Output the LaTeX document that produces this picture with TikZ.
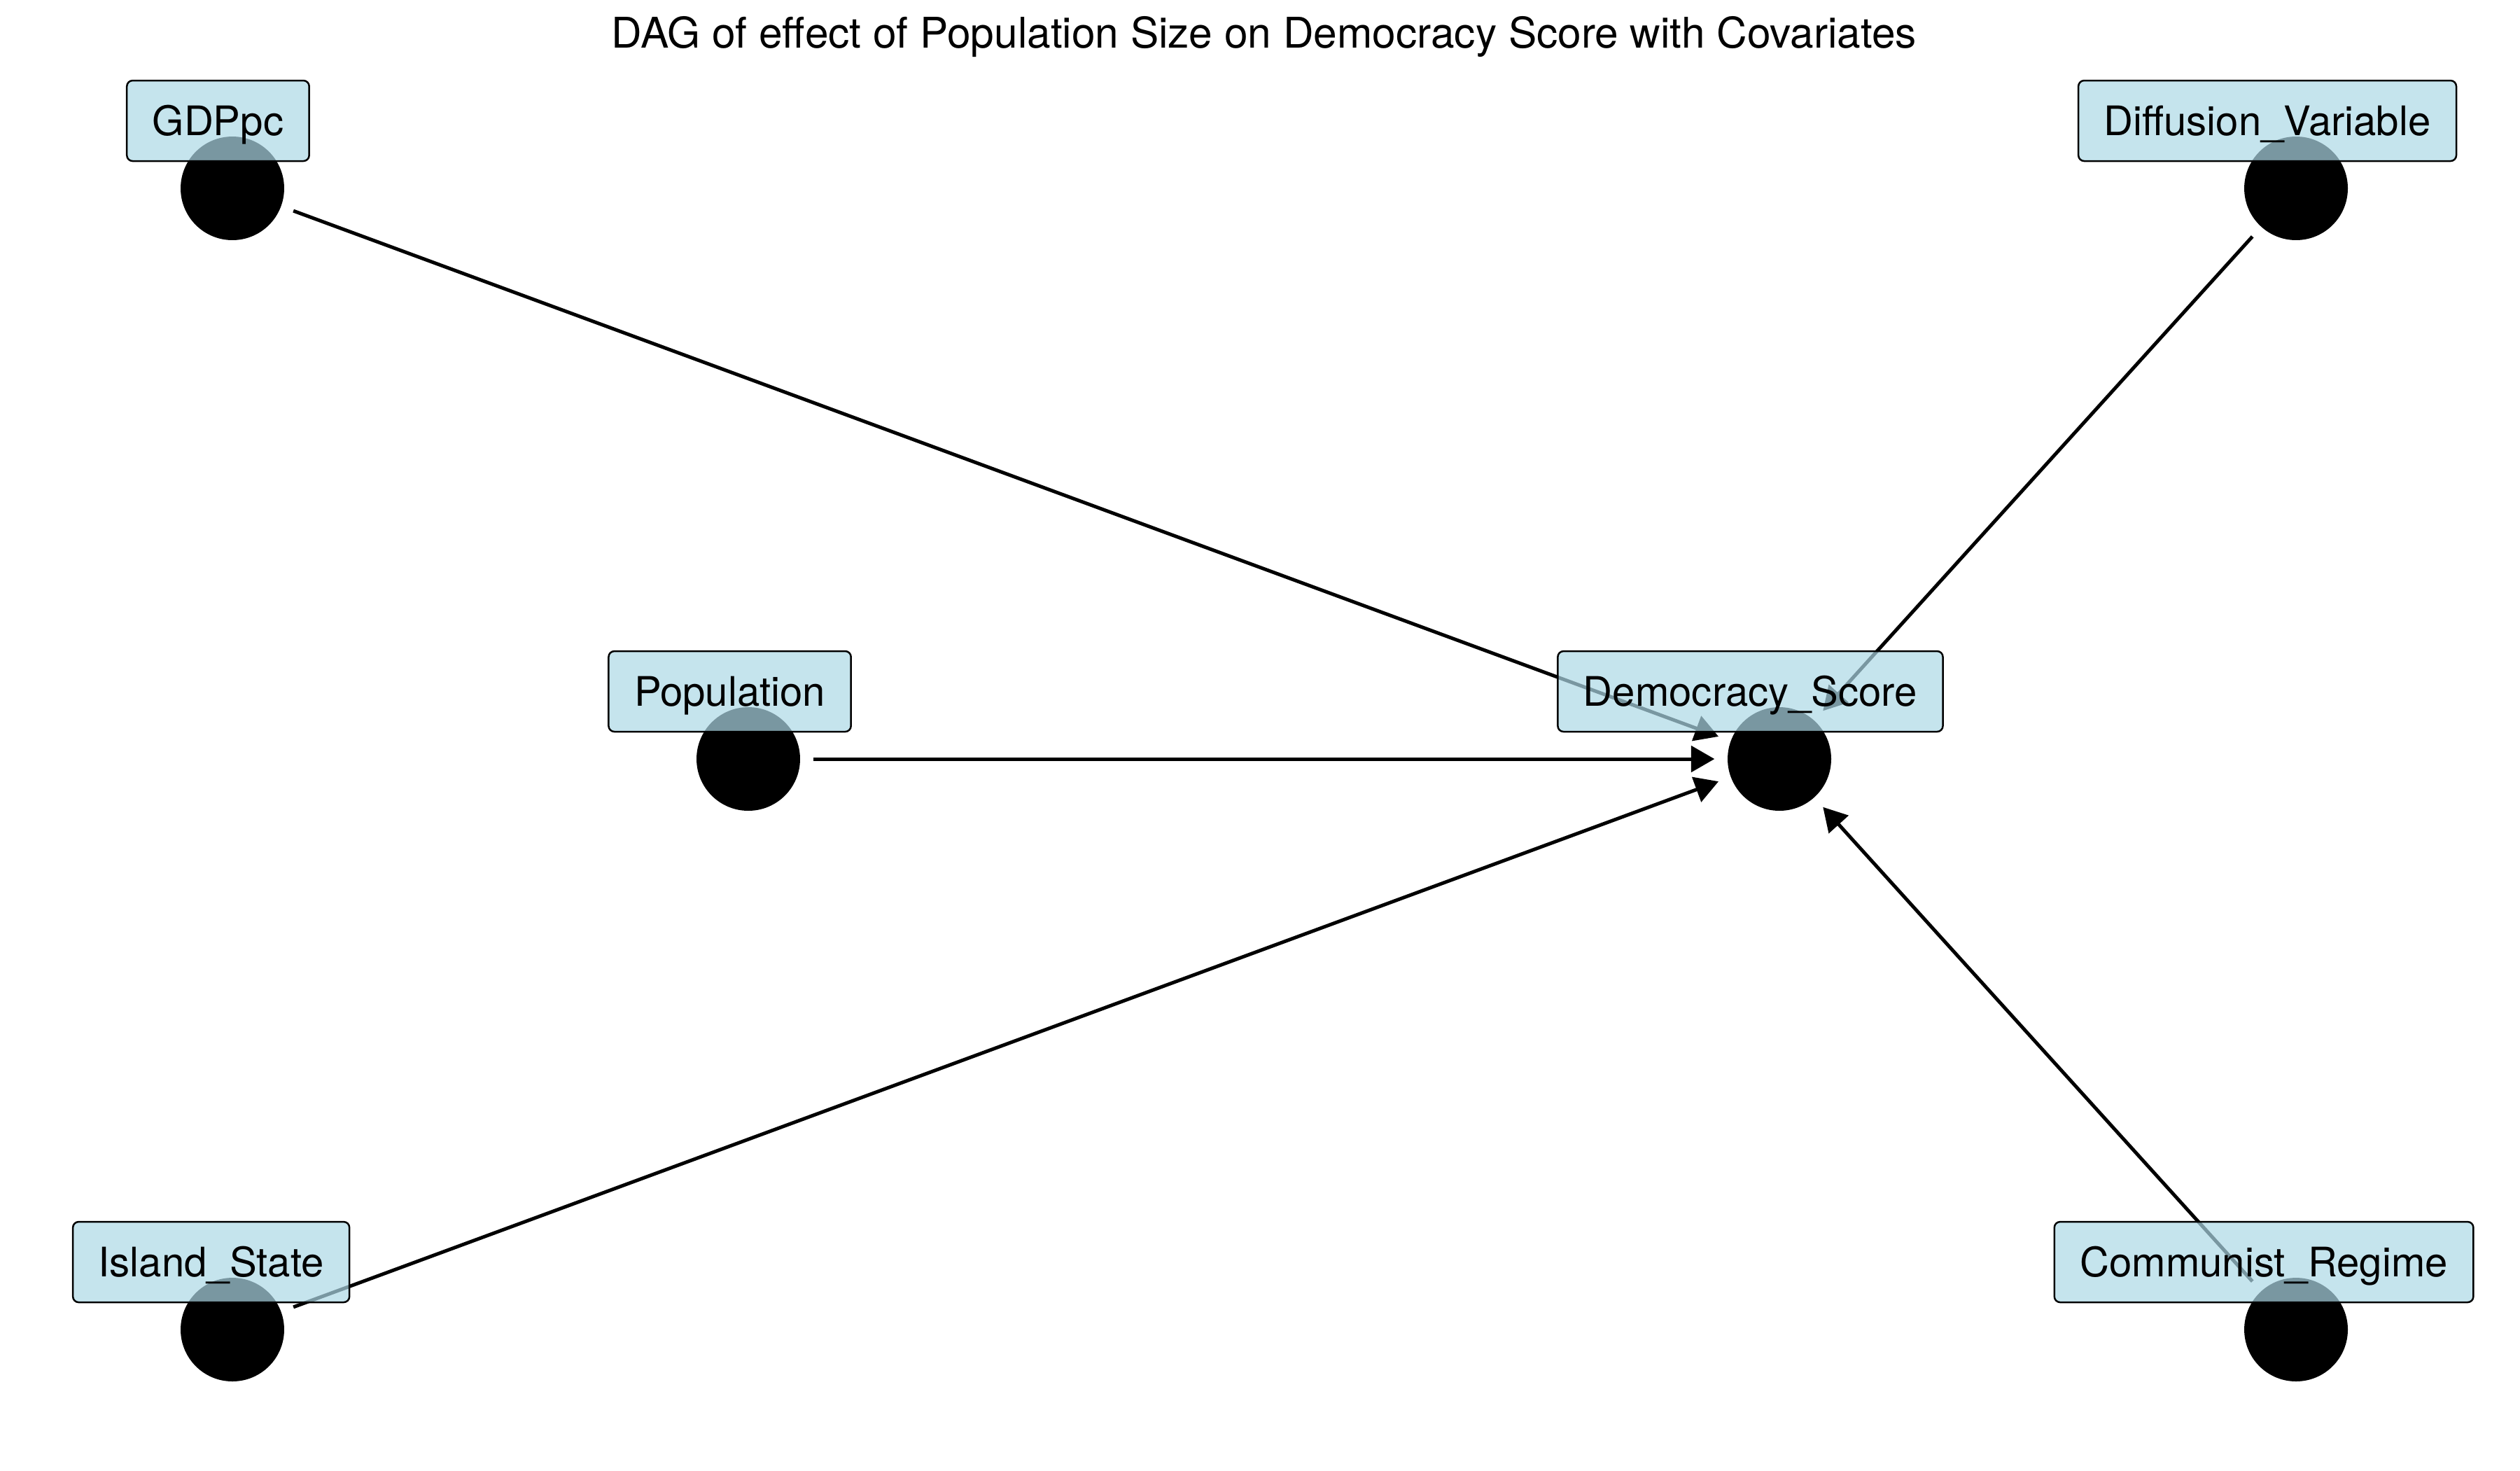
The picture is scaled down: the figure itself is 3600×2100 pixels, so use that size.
\documentclass[tikz,border=0pt]{standalone}
\usepackage{fontspec}
\setmainfont{TeX Gyre Heros}
\usepackage{tikz}
\usetikzlibrary{shapes,arrows}
\definecolor{lblue}{RGB}{173,216,230}
\tikzstyle{line} = [draw, -triangle 60, line width=1.2pt, shorten <=0.16cm, shorten >=0.16cm]
\tikzstyle{dot} = [circle, fill=black, minimum size=1.253cm, inner sep=0pt, outer sep=0pt]
\tikzstyle{lab} = [rectangle, draw, rounded corners=2pt, line width=0.6pt, fill=lblue, fill opacity=0.7, text opacity=1, inner xsep=0.31cm, inner ysep=0pt, minimum height=0.974cm, text height=10.1pt, text depth=0pt, node distance=0.817cm, font=\fontsize{14}{16}\selectfont]

\begin{document}
\begin{tikzpicture}[x=0.0084667cm, y=-0.0084667cm]
\useasboundingbox (0,0) rectangle (3600,2100);

\node [font=\fontsize{14.55}{16}\selectfont, text height=10.4pt, text depth=0pt, inner sep=0pt] (title) at (1806,46.7) {DAG of effect of Population Size on Democracy Score with Covariates};

\node [dot] (gdp) at (332,269) {};
\node [dot] (diff) at (3280,269) {};
\node [dot] (pop) at (1069,1084) {};
\node [dot] (dem) at (2542,1084) {};
\node [dot] (isl) at (332,1899) {};
\node [dot] (com) at (3280,1899) {};

\path [line] (gdp) to (dem);
\path [line] (diff) to (dem);
\path [line] (pop) to (dem);
\path [line] (isl) to (dem);
\path [line] (com) to (dem);

\node [lab, above of=gdp, xshift=-0.174cm] (gdp_lab) {GDPpc};
\node [lab, above of=diff, xshift=-0.347cm] (diff_lab) {Diffusion\_Variable};
\node [lab, above of=pop, xshift=-0.224cm] (pop_lab) {Population};
\node [lab, above of=dem, xshift=-0.352cm] (dem_lab) {Democracy\_Score};
\node [lab, above of=isl, xshift=-0.257cm] (isl_lab) {Island\_State};
\node [lab, above of=com, xshift=-0.389cm] (com_lab) {Communist\_Regime};

\end{tikzpicture}
\end{document}
